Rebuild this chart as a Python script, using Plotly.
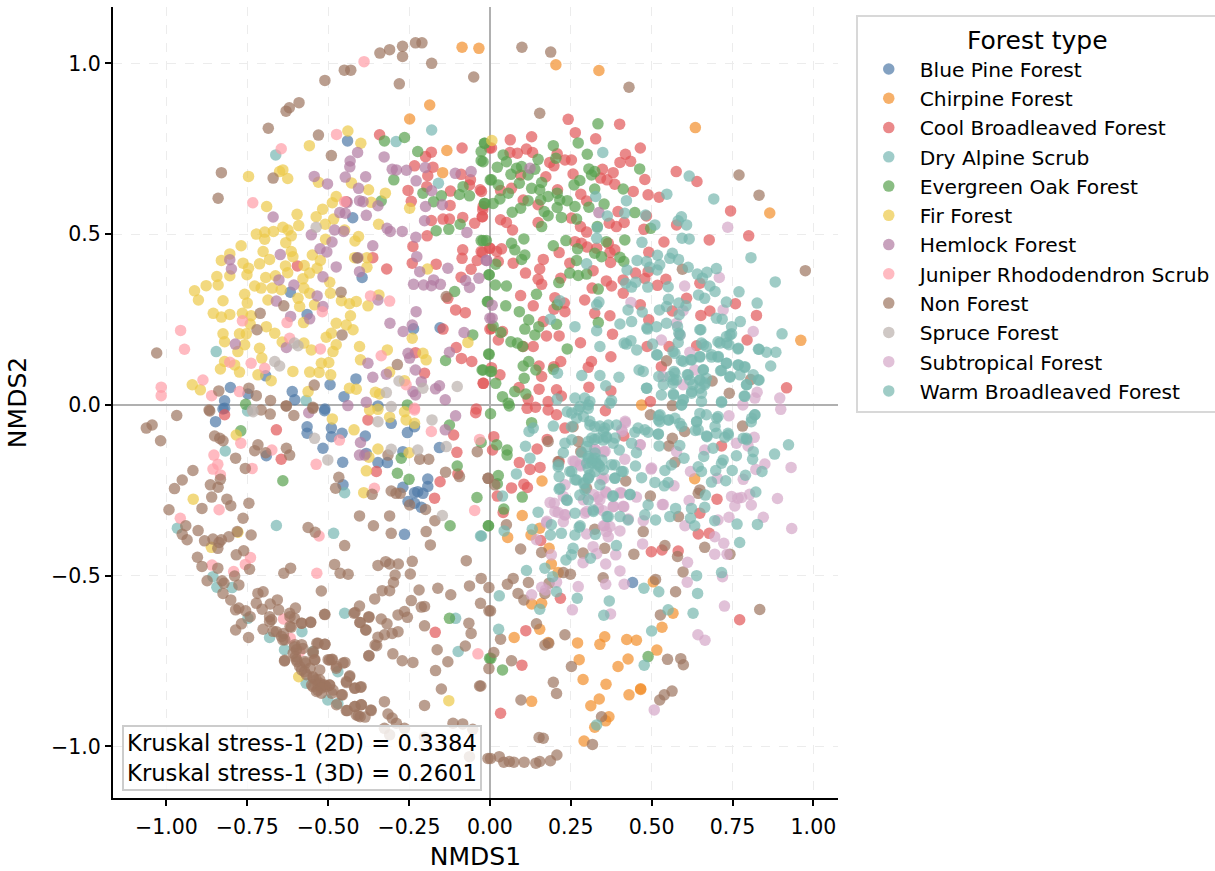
import plotly.graph_objects as go

BLUE_PINE = [(-0.440,0.773),(-0.424,0.548),(-0.395,0.373),(-0.617,0.330),(-0.565,0.265),(-0.236,0.223),(-0.154,0.226),(-0.693,0.085),(-0.802,0.051),(-0.748,0.032),(-0.494,0.059),(-0.414,0.076),(-0.611,0.039),(-0.451,0.024),(-0.603,0.015),(-0.820,0.012),(-0.346,-0.003),(-0.510,-0.012),(-0.825,-0.012),(-0.848,-0.049),(-0.820,-0.010),(-0.511,-0.017),(-0.565,-0.064),(-0.565,-0.083),(-0.490,-0.068),(-0.490,-0.093),(-0.457,-0.083),(-0.385,-0.091),(-0.516,-0.127),(-0.691,-0.149),(-0.455,-0.168),(-0.255,-0.081),(-0.233,-0.064),(-0.305,-0.054),(-0.156,-0.125),(-0.269,-0.137),(-0.382,-0.142),(-0.346,-0.169),(-0.317,-0.169),(-0.454,-0.234),(-0.269,-0.241),(-0.192,-0.217),(-0.192,-0.239),(-0.233,-0.257),(-0.223,-0.254),(-0.207,-0.259),(-0.253,-0.283),(-0.233,-0.288),(-0.212,-0.300),(-0.264,-0.379),(0.441,-0.520)]
CHIRPINE = [(-0.086,1.047),(-0.034,1.044),(-0.186,0.878),(-0.248,0.837),(-0.133,0.745),(-0.146,0.680),(0.204,0.996),(0.337,0.979),(0.635,0.812),(0.865,0.562),(0.961,0.189),(0.469,0.0),(0.161,-0.223),(0.633,-0.216),(0.100,-0.324),(0.154,-0.361),(0.127,-0.381),(0.055,-0.388),(0.183,-0.420),(0.190,-0.466),(0.211,-0.491),(0.505,-0.518),(0.129,-0.583),(0.160,-0.581),(0.566,-0.610),(0.532,-0.651),(0.154,-0.657),(0.075,-0.681),(0.180,-0.696),(0.271,-0.697),(0.355,-0.679),(0.340,-0.701),(0.423,-0.687),(0.453,-0.689),(0.516,-0.718),(0.276,-0.746),(0.427,-0.744),(0.396,-0.766),(0.288,-0.804),(0.359,-0.818),(0.466,-0.831),(0.466,-0.833),(0.430,-0.849),(0.338,-0.861),(0.129,-0.868),(0.312,-0.881),(0.368,-0.913),(0.358,-0.925),(0.324,-0.944),(0.291,-0.984)]
COOL_BROADLEAVED = [(-0.341,0.791),(-0.181,0.740),(-0.199,0.727),(-0.086,0.752),(-0.233,0.700),(-0.176,0.696),(-0.192,0.671),(-0.089,0.675),(-0.060,0.659),(-0.063,0.644),(-0.253,0.628),(-0.195,0.639),(-0.122,0.626),(-0.030,0.630),(-0.243,0.596),(-0.123,0.584),(-0.181,0.540),(-0.145,0.544),(-0.125,0.544),(-0.084,0.549),(-0.047,0.532),(-0.024,0.551),(-0.194,0.495),(-0.022,0.571),(-0.238,0.464),(-0.084,0.454),(-0.086,0.429),(-0.027,0.449),(-0.039,0.423),(-0.001,0.459),(-0.166,0.412),(-0.240,0.415),(-0.058,0.397),(-0.319,0.398),(-0.362,0.431),(-0.595,0.407),(-0.089,0.374),(-0.130,0.312),(-0.106,0.278),(-0.076,0.270),(-0.145,0.222),(-0.104,0.168),(-0.088,0.136),(-0.056,0.127),(-0.020,0.063),(0.0,0.222),(-0.444,0.595),(-0.042,-0.012),(-0.202,0.093),(-0.001,0.752),(-0.230,0.153),
(0.242,0.836),(0.264,0.797),(0.401,0.822),(0.063,0.776),(0.129,0.785),(0.327,0.779),(0.465,0.752),(0.005,0.752),(0.062,0.739),(0.085,0.737),(0.113,0.749),(0.132,0.739),(0.208,0.735),(0.185,0.710),(0.198,0.700),(0.232,0.717),(0.252,0.717),(0.419,0.734),(0.402,0.710),(0.435,0.713),(0.348,0.690),(0.381,0.680),(0.257,0.676),(0.173,0.668),(0.095,0.673),(0.342,0.664),(0.362,0.659),(0.386,0.646),(0.479,0.660),(0.576,0.683),(0.640,0.654),(0.443,0.625),(0.489,0.615),(0.523,0.608),(0.209,0.630),(0.281,0.617),(0.067,0.634),(0.033,0.628),(-0.026,0.625),(0.103,0.600),(0.299,0.597),(0.149,0.586),(-0.021,0.581),(-0.023,0.551),(0.033,0.542),(0.051,0.534),(0.149,0.534),(0.252,0.547),(0.280,0.522),(0.396,0.566),(0.369,0.532),(0.391,0.522),(0.415,0.534),(0.744,0.568),(0.476,0.514),(0.484,0.553),(0.577,0.527),(0.070,0.512),(0.299,0.506),(0.538,0.477),(0.678,0.483),(0.800,0.495),(0.263,0.478),(0.283,0.473),(0.301,0.462),(0.330,0.459),(0.366,0.473),(0.386,0.454),(0.371,0.446),(0.000,0.459),(0.036,0.457),(0.021,0.449),(-0.023,0.446),(0.214,0.446),(0.165,0.426),(0.491,0.447),(0.026,0.420),(0.072,0.415),(0.247,0.415),(0.373,0.417),(0.154,0.398),(0.319,0.393),(0.110,0.386),(0.450,0.386),(0.489,0.390),(0.412,0.366),(0.479,0.370),(0.149,0.368),(0.160,0.353),(0.219,0.371),(0.360,0.363),(0.376,0.348),(0.544,0.368),(0.518,0.350),(0.649,0.356),(0.316,0.342),(0.412,0.327),(0.095,0.320),(0.201,0.314),(0.293,0.307),(0.608,0.312),(0.759,0.296),(0.134,0.290),(0.465,0.293),(0.230,0.298),(0.198,0.280),(0.232,0.273),(0.324,0.268),(0.371,0.261),(0.564,0.275),(0.652,0.262),(0.680,0.275),(0.824,0.262),(0.491,0.249),(0.165,0.244),(0.005,0.224),(0.039,0.215),(0.026,0.190),(0.175,0.202),(0.214,0.202),(0.379,0.207),(0.280,0.182),(0.103,0.171),(0.134,0.171),(0.486,0.171),(0.554,0.171),(0.639,0.173),(0.795,0.190),(0.374,0.141),(0.219,0.127),(0.314,0.127),(0.530,0.112),(0.304,0.110),(0.152,0.114),(0.198,0.112),(0.005,0.109),(0.031,0.088),(-0.021,0.063),(0.160,0.083),(0.152,0.046),(0.090,0.051),(0.306,0.052),(0.374,0.041),(0.206,0.044),(0.221,0.026),(0.917,0.050),(0.118,0.017),(0.180,0.010),(0.496,0.010),
(0.115,-0.010),(0.141,-0.007),(0.180,-0.015),(0.206,-0.029),(0.357,-0.017),(0.232,-0.068),(0.414,-0.091),(0.012,-0.093),(0.177,-0.101),(0.146,-0.129),(0.008,-0.132),(0.091,-0.169),(0.124,-0.189),(0.155,-0.183),(0.214,-0.166),(0.067,-0.243),(0.105,-0.232),(0.116,-0.242),(0.023,-0.267),(0.716,-0.120),(0.702,-0.276),(0.649,-0.317),(0.644,-0.378),(0.678,-0.376),(0.582,-0.428),(0.532,-0.425),(0.499,-0.430),(0.157,-0.397),(0.041,-0.315),(0.218,-0.566),(0.111,-0.661),(0.099,-0.762),(0.033,-0.903),(0.772,-0.629),
(-0.660,-0.073),(-0.645,-0.159),(-0.820,-0.029),(-0.044,-0.023),(-0.112,-0.088),(-0.102,-0.139),(-0.099,-0.202),(-0.154,-0.225),(-0.171,-0.273),(-0.169,-0.666),(-0.351,-0.195),(-0.377,-0.044)]
DRY_ALPINE = [(-0.846,0.156),(-0.662,0.732),(-0.18,0.805),(-0.29,0.771),(-0.159,0.649),(-0.568,0.013),(-0.818,-0.135),(-0.966,-0.361),(-0.660,-0.353),(-0.483,-0.376),(-0.449,-0.610),(-0.106,-0.625),(-0.098,-0.722),(-0.029,-0.384),(-0.449,-0.257),(-0.856,-0.503),(-0.844,-0.534),(-0.797,-0.535),(-0.748,-0.625),(-0.681,-0.681),(-0.581,-0.664),(-0.635,-0.717),(-0.547,-0.722),(-0.470,-0.781),(-0.568,-0.815),(-0.501,-0.864),(-0.470,-0.874),(-0.749,-0.018)]
EVERGREEN_OAK = [(-0.326,0.773),(-0.264,0.783),(-0.223,0.742),(-0.017,0.766),(-0.027,0.742),(-0.027,0.715),(-0.297,0.659),(-0.207,0.620),(-0.174,0.595),(-0.150,0.612),(-0.094,0.616),(-0.083,0.639),(-0.063,0.612),(-0.017,0.590),(0.001,0.659),(-0.336,0.597),(-0.166,0.510),(-0.127,0.514),(-0.092,0.529),(-0.027,0.481),(-0.011,0.481),(-0.003,0.381),(-0.006,0.303),(-0.109,0.332),(-0.053,0.205),(-0.004,0.149),(-0.137,0.130),(-0.024,0.102),(0.001,0.098),(-0.755,0.002),(-0.255,0.0),
(0.334,0.823),(-0.016,0.766),(0.273,0.767),(0.196,0.759),(0.301,0.734),(0.041,0.732),(0.149,0.719),(0.204,0.722),(0.051,0.712),(-0.021,0.712),(0.023,0.696),(0.082,0.693),(0.098,0.698),(0.139,0.690),(0.306,0.691),(0.324,0.683),(0.463,0.691),(0.065,0.675),(0.118,0.673),(0.314,0.673),(0.005,0.659),(0.026,0.644),(0.091,0.649),(0.278,0.657),(0.260,0.644),(0.160,0.651),(0.324,0.632),(0.412,0.632),(0.129,0.634),(0.154,0.630),(0.057,0.620),(0.208,0.620),(0.180,0.610),(0.031,0.603),(0.010,0.590),(-0.016,0.590),(0.118,0.598),(0.216,0.600),(0.239,0.598),(0.157,0.600),(0.095,0.576),(0.069,0.564),(0.208,0.578),(0.263,0.581),(0.306,0.579),(0.353,0.588),(0.168,0.566),(0.180,0.554),(0.221,0.549),(0.268,0.544),(0.448,0.563),(0.160,0.522),(0.332,0.522),(0.497,0.517),(-0.021,0.481),(0.105,0.486),(0.196,0.466),(0.235,0.481),(0.271,0.457),(0.360,0.478),(0.417,0.483),(0.067,0.473),(0.077,0.454),(0.108,0.439),(0.098,0.426),(0.324,0.444),(0.345,0.434),(0.402,0.432),(0.414,0.420),(0.268,0.423),(0.018,0.412),(0.247,0.386),(0.273,0.379),(0.299,0.383),(-0.002,0.381),(0.017,0.351),(0.051,0.348),(0.213,0.358),(0.335,0.339),(0.144,0.324),(-0.008,0.302),(0.049,0.290),(0.091,0.273),(0.208,0.293),(0.120,0.249),(0.108,0.222),(0.151,0.229),(0.206,0.236),(0.335,0.241),(0.010,0.231),(0.034,0.212),(0.139,0.205),(0.065,0.185),(0.085,0.181),(0.101,0.171),(0.239,0.164),(-0.002,0.148),(0.120,0.127),(0.103,0.114),(0.142,0.102),(0.196,0.104),(-0.021,0.102),(0.005,0.098),(0.106,0.078),(0.018,0.063),(0.077,0.039),(0.111,0.032),(0.039,0.024),(0.057,0.005),
(-0.640,-0.222),(-0.770,-0.076),(-0.125,-0.059),(-0.274,-0.156),(-0.286,-0.200),(-0.250,-0.218),(-0.101,-0.179),(-0.123,-0.354),(-0.040,-0.271),(-0.027,-0.110),(-0.004,-0.354),(-0.125,-0.625),(-0.001,-0.742),(0.002,-0.026),(0.129,-0.052),(0.060,-0.003),(0.021,-0.117),(0.053,-0.132),(0.053,-0.147),(0.026,-0.207),(0.023,-0.231),(0.100,-0.270),(0.043,-0.305),(-0.005,-0.354),(0.489,-0.737),(0.039,-0.776),(0.003,-0.742)]
FIR = [(-0.439,0.802),(-0.399,0.766),(-0.558,0.759),(-0.746,0.669),(-0.650,0.683),(-0.640,0.688),(-0.625,0.663),(-0.530,0.652),(-0.428,0.650),(-0.375,0.630),(-0.323,0.620),(-0.475,0.610),(-0.487,0.592),(-0.367,0.593),(-0.690,0.581),(-0.517,0.573),(-0.248,0.576),(-0.596,0.558),(-0.537,0.551),(-0.483,0.544),(-0.591,0.525),(-0.509,0.529),(-0.344,0.529),(-0.722,0.500),(-0.696,0.506),(-0.696,0.485),(-0.669,0.508),(-0.640,0.520),(-0.624,0.512),(-0.614,0.495),(-0.631,0.475),(-0.406,0.493),(-0.417,0.480),(-0.508,0.485),(-0.449,0.512),(-0.769,0.466),(-0.701,0.449),(-0.804,0.442),(-0.830,0.423),(-0.763,0.415),(-0.712,0.413),(-0.681,0.426),(-0.614,0.449),(-0.609,0.434),(-0.549,0.439),(-0.524,0.423),(-0.418,0.431),(-0.380,0.431),(-0.380,0.403),(-0.746,0.400),(-0.751,0.381),(-0.804,0.378),(-0.844,0.376),(-0.632,0.407),(-0.625,0.387),(-0.574,0.408),(-0.557,0.386),(-0.534,0.400),(-0.877,0.349),(-0.840,0.351),(-0.913,0.334),(-0.901,0.307),(-0.693,0.373),(-0.663,0.378),(-0.727,0.348),(-0.707,0.342),(-0.673,0.342),(-0.645,0.337),(-0.578,0.369),(-0.575,0.342),(-0.495,0.359),(-0.493,0.327),(-0.825,0.305),(-0.758,0.324),(-0.750,0.298),(-0.686,0.307),(-0.593,0.312),(-0.557,0.327),(-0.588,0.288),(-0.542,0.293),(-0.459,0.305),(-0.434,0.296),(-0.413,0.303),(-0.377,0.290),(-0.343,0.322),(-0.855,0.268),(-0.830,0.257),(-0.804,0.265),(-0.765,0.268),(-0.738,0.261),(-0.741,0.237),(-0.576,0.241),(-0.431,0.261),(-0.475,0.239),(-0.444,0.234),(-0.423,0.220),(-0.691,0.229),(-0.665,0.210),(-0.825,0.208),(-0.774,0.208),(-0.753,0.208),(-0.820,0.185),(-0.758,0.176),(-0.712,0.166),(-0.490,0.210),(-0.506,0.198),(-0.642,0.184),(-0.575,0.181),(-0.552,0.161),(-0.475,0.176),(-0.485,0.156),(-0.403,0.171),(-0.317,0.161),(-0.779,0.156),(-0.705,0.137),(-0.400,0.132),(-0.521,0.122),(-0.498,0.124),(-0.820,0.127),(-0.833,0.105),(-0.789,0.117),(-0.774,0.096),(-0.717,0.088),(-0.609,0.098),(-0.557,0.096),(-0.528,0.095),(-0.492,0.088),(-0.920,0.059),(-0.895,0.044),(-0.676,0.071),(-0.562,0.039),(-0.434,0.049),(-0.413,0.046),(-0.354,0.037),(-0.341,0.032),(-0.264,0.071),(-0.310,0.096),(-0.240,0.195),(-0.193,0.398),(-0.068,0.183),(-0.207,0.151),(-0.197,0.132),(0.006,0.774),
(-0.487,-0.041),(-0.372,-0.015),(-0.346,-0.013),(-0.310,-0.036),(-0.264,-0.020),(-0.259,-0.044),(-0.233,-0.054),(-0.420,-0.073),(-0.784,-0.088),(-0.346,-0.129),(-0.374,-0.153),(-0.250,-0.140),(-0.382,-0.193),(-0.390,-0.257),(-0.917,-0.276),(-0.861,-0.417),(-0.779,-0.373),(-0.591,-0.796),(-0.127,-0.866)]
HEMLOCK = [(-0.409,0.739),(-0.432,0.714),(-0.433,0.697),(-0.327,0.726),(-0.302,0.690),(-0.289,0.688),(-0.258,0.687),(-0.200,0.695),(-0.543,0.669),(-0.502,0.647),(-0.447,0.667),(-0.384,0.668),(-0.406,0.634),(-0.228,0.656),(-0.180,0.627),(-0.107,0.678),(-0.058,0.683),(-0.403,0.598),(-0.392,0.595),(-0.441,0.593),(-0.346,0.583),(-0.199,0.581),(-0.147,0.586),(-0.464,0.563),(-0.447,0.561),(-0.382,0.555),(-0.670,0.550),(-0.202,0.539),(-0.552,0.498),(-0.480,0.512),(-0.452,0.508),(-0.318,0.517),(-0.308,0.508),(-0.271,0.508),(-0.071,0.505),(-0.229,0.491),(-0.488,0.477),(-0.525,0.457),(-0.504,0.448),(-0.362,0.466),(-0.648,0.440),(-0.804,0.425),(-0.799,0.398),(-0.408,0.431),(-0.226,0.434),(-0.475,0.404),(-0.403,0.390),(-0.130,0.400),(-0.217,0.390),(-0.011,0.423),(-0.516,0.375),(-0.652,0.366),(-0.606,0.351),(-0.236,0.353),(-0.205,0.351),(-0.174,0.366),(-0.181,0.349),(-0.153,0.353),(-0.075,0.364),(-0.063,0.344),(-0.034,0.371),(-0.534,0.319),(-0.660,0.304),(-0.516,0.288),(-0.616,0.259),(-0.557,0.252),(-0.346,0.307),(-0.228,0.273),(-0.309,0.239),(-0.268,0.215),(-0.240,0.234),(-0.080,0.212),(0.0,0.254),(-0.787,0.178),(-0.629,0.168),(-0.377,0.122),(-0.125,0.154),(-0.253,0.151),(-0.248,0.137),(-0.230,0.102),(-0.320,0.090),(-0.362,0.081),(-0.212,0.068),(-0.168,0.047),(-0.156,0.056),(-0.238,0.039),(-0.230,0.029),(-0.382,0.008),(-0.138,0.015),(-0.439,-0.002),(-0.560,-0.023),(-0.106,-0.032),(-0.138,-0.073),(-0.400,-0.110),(-0.403,-0.147),(-0.387,-0.147),(0.124,0.693),(0.337,0.563),(0.007,0.292),(0.007,0.254),(-0.010,0.423)]
JUNIPER_RHODODENDRON = [(-0.389,1.005),(-0.645,0.750),(-0.474,0.792),(-0.733,0.592),(-0.449,0.595),(-0.956,0.218),(-0.944,0.163),(-1.016,0.052),(-1.016,0.027),(-0.887,0.073),(-0.860,0.027),(-0.774,0.039),(-0.804,0.125),(-0.738,0.122),(-0.696,0.107),(-0.619,0.195),(-0.627,0.241),(-0.765,0.246),(-0.518,0.273),(-0.369,0.319),(-0.310,0.304),(-0.336,0.144),(-0.524,0.164),(-0.259,0.059),(-0.233,-0.010),(-0.233,-0.015),(-0.465,-0.103),(-0.181,-0.078),(-0.770,-0.112),(-0.674,-0.132),(-0.853,-0.147),(-0.841,-0.174),(-0.856,-0.188),(-0.833,-0.205),(-0.735,-0.186),(-0.537,-0.174),(-0.357,-0.244),(-0.837,-0.307),(-0.957,-0.332),(-0.047,-0.309),(-0.032,-0.101),(-0.528,-0.384),(-0.740,-0.447),(-0.756,-0.467),(-0.859,-0.469),(-0.792,-0.488),(-0.535,-0.493),(-0.638,-0.627),(-0.617,-0.683),(-0.037,-0.729),(-0.588,-0.722)]
NON_FOREST = [(-0.23,1.06),(-0.21,1.06),(-0.27,1.05),(-0.27,1.02),(-0.31,1.04),(-0.34,1.03),(-0.18,1.00),(-0.45,0.98),(-0.43,0.98),(-0.28,0.94),(-0.51,0.95),(-0.05,0.96),(-0.63,0.86),(-0.62,0.87),(-0.59,0.885),(-0.685,0.81),(-0.53,0.79),(-0.49,0.73),(-0.83,0.68),(-0.67,0.664),(-0.84,0.605),(-1.03,0.152),(-0.637,0.29),(-0.71,0.268),(-0.72,0.22),(-0.457,0.205),(-0.286,0.118),(-0.46,0.33),(-0.41,0.43),(-0.135,0.317),(-0.543,0.058),(-0.745,0.049),(-0.838,0.041),(-0.722,0.027),(-0.678,0.013),(-0.63,-0.003),(-0.547,-0.007),(-0.868,-0.015),
(0.099,1.047),(0.188,1.033),(0.43,0.93),(0.154,0.854),(0.77,0.673),(0.832,0.614),(0.975,0.393),(0.806,0.074),(0.74,0.034),(0.595,0.397),(0.546,0.129),(0.687,0.07),
(-1.062,-0.068),(-1.044,-0.059),(-1.018,-0.105),(-0.968,-0.031),(-0.866,-0.018),(-0.851,-0.091),(-0.835,-0.098),(-0.825,-0.105),(-0.707,-0.015),(-0.679,-0.027),(-0.629,-0.003),(-0.606,-0.031),(-0.547,-0.010),(-0.717,-0.117),(-0.727,-0.134),(-0.693,-0.140),(-0.629,-0.127),(-0.619,-0.147),(-0.786,-0.156),(-0.756,-0.186),(-0.918,-0.192),(-0.951,-0.220),(-0.975,-0.245),(-0.864,-0.234),(-0.840,-0.241),(-0.833,-0.218),(-0.860,-0.270),(-0.813,-0.276),(-0.801,-0.295),(-0.890,-0.303),(-0.745,-0.288),(-0.992,-0.307),(-0.763,-0.332),(-0.940,-0.354),(-0.951,-0.379),(-0.936,-0.395),(-0.902,-0.368),(-0.882,-0.398),(-0.856,-0.393),(-0.837,-0.403),(-0.830,-0.395),(-0.841,-0.420),(-0.807,-0.386),(-0.781,-0.371),(-0.738,-0.381),(-0.761,-0.427),(-0.784,-0.439),(-0.904,-0.446),(-0.890,-0.473),(-0.841,-0.478),(-0.743,-0.481),(-0.874,-0.515),(-0.828,-0.515),(-0.822,-0.522),(-0.789,-0.501),(-0.776,-0.527),(-0.825,-0.552),(-0.717,-0.552),(-0.701,-0.547),(-0.801,-0.571),(-0.722,-0.581),(-0.776,-0.595),(-0.786,-0.600),(-0.755,-0.603),(-0.741,-0.620),(-0.768,-0.641),(-0.786,-0.659),(-0.746,-0.681),(-0.701,-0.657),(-0.681,-0.620),(-0.681,-0.634),(-0.679,-0.583),(-0.657,-0.571),(-0.653,-0.600),(-0.704,-0.598),(-0.660,-0.664),(-0.638,-0.669),(-0.640,-0.688),(-0.601,-0.595),(-0.619,-0.610),(-0.604,-0.625),(-0.582,-0.639),(-0.554,-0.637),(-0.614,-0.651),(-0.511,-0.613),(-0.521,-0.545),(-0.637,-0.493),(-0.616,-0.478),(-0.562,-0.359),(-0.540,-0.373),(-0.449,-0.412),(-0.480,-0.467),(-0.463,-0.493),(-0.438,-0.496),(-0.403,-0.589),(-0.420,-0.610),(-0.401,-0.637),(-0.384,-0.659),(-0.374,-0.622),(-0.374,-0.735),(-0.355,-0.703),(-0.346,-0.680),(-0.326,-0.673),(-0.302,-0.669),(-0.284,-0.664),(-0.336,-0.627),(-0.318,-0.641),(-0.356,-0.568),(-0.333,-0.544),(-0.310,-0.544),(-0.298,-0.520),(-0.293,-0.498),(-0.346,-0.470),(-0.322,-0.459),(-0.310,-0.466),(-0.283,-0.466),(-0.240,-0.458),(-0.246,-0.495),(-0.243,-0.573),(-0.219,-0.542),(-0.161,-0.537),(-0.121,-0.556),(-0.073,-0.456),(-0.063,-0.530),(-0.027,-0.508),(-0.003,-0.535),(-0.029,-0.581),(-0.003,-0.603),(-0.202,-0.590),(-0.212,-0.592),(-0.284,-0.615),(-0.264,-0.605),(-0.255,-0.622),(-0.202,-0.647),(-0.065,-0.639),(-0.058,-0.669),(-0.076,-0.706),(-0.163,-0.717),(-0.130,-0.752),(-0.168,-0.778),(-0.150,-0.832),(-0.202,-0.880),(-0.032,-0.823),(-0.300,-0.729),(-0.271,-0.749),(-0.238,-0.754),(-0.403,-0.325),(-0.360,-0.354),(-0.310,-0.325),(-0.305,-0.376),(-0.197,-0.371),(-0.170,-0.339),(-0.184,-0.410),(-0.477,-0.244),(-0.467,-0.212),(-0.364,-0.262),(-0.305,-0.252),(-0.290,-0.259),(-0.277,-0.259),(-0.217,-0.159),(-0.189,-0.159),(-0.137,-0.197),(-0.094,-0.210),(-0.039,-0.137),(-0.006,-0.215),(-0.315,-0.147),(-0.248,-0.293),(-0.199,-0.306),
(-0.604,-0.708),(-0.598,-0.717),(-0.578,-0.713),(-0.535,-0.698),(-0.510,-0.701),(-0.635,-0.750),(-0.601,-0.737),(-0.596,-0.752),(-0.570,-0.756),(-0.547,-0.727),(-0.542,-0.747),(-0.496,-0.747),(-0.487,-0.745),(-0.454,-0.756),(-0.475,-0.771),(-0.588,-0.766),(-0.573,-0.781),(-0.547,-0.796),(-0.537,-0.805),(-0.526,-0.815),(-0.516,-0.820),(-0.506,-0.825),(-0.496,-0.820),(-0.532,-0.835),(-0.521,-0.844),(-0.547,-0.825),(-0.485,-0.835),(-0.456,-0.849),(-0.434,-0.796),(-0.444,-0.810),(-0.418,-0.830),(-0.398,-0.825),(-0.326,-0.869),(-0.444,-0.895),(-0.418,-0.883),(-0.398,-0.878),(-0.367,-0.895),(-0.413,-0.908),(-0.401,-0.913),(-0.315,-0.905),(-0.302,-0.917),(-0.289,-0.932),(-0.264,-0.947),(-0.114,-0.932),(-0.084,-0.934),(-0.053,-0.950),(-0.326,-0.947),(-0.310,-0.966),(-0.202,-0.973),(-0.063,-1.030),(-0.006,-1.035),
(0.072,-0.508),(0.054,-0.525),(0.119,-0.520),(0.087,-0.552),(0.105,-0.571),(0.002,-0.603),(0.095,-0.422),(0.160,-0.432),(0.180,-0.107),(0.211,-0.166),(-0.005,-0.215),(0.015,-0.234),(0.051,-0.351),(0.183,-0.522),(0.170,-0.552),(0.227,-0.491),(0.249,-0.496),(0.144,-0.641),(0.033,-0.686),(0.012,-0.725),(-0.003,-0.772),(0.067,-0.749),(-0.028,-0.823),(0.170,-0.703),(0.182,-0.698),(0.232,-0.673),(0.252,-0.766),(0.196,-0.812),(0.206,-0.845),(0.096,-0.864),(0.152,-0.974),(0.165,-0.976),(0.002,-1.035),(0.029,-1.030),(0.043,-1.046),(0.060,-1.044),(0.074,-1.046),(0.106,-1.046),(0.142,-1.049),(0.154,-1.044),(0.187,-1.042),(0.207,-1.025),(0.317,-0.994),(0.345,-0.913),(0.525,-0.864),(0.539,-0.849),(0.563,-0.838),(0.549,-0.745),(0.590,-0.743),(0.598,-0.761),(0.527,-0.615),(0.834,-0.599),(0.574,-0.547),(0.597,-0.489),(0.512,-0.511),(0.350,-0.506),(0.445,-0.437),(0.541,-0.412),(0.580,-0.444),(0.664,-0.417),(0.742,-0.437),(0.355,-0.420),(0.288,-0.434),(0.474,-0.371),(0.583,-0.327),(0.324,-0.364),(0.496,-0.267),(0.644,-0.259),(0.649,-0.249),(0.420,-0.223),(0.572,-0.168),(0.553,-0.120),(0.564,-0.098),(0.602,-0.078),(0.781,-0.062),(0.496,-0.029),(0.299,-0.244),(0.281,-0.137),(0.273,-0.107),(0.257,-0.064),(0.564,-0.002),
(-0.644,-0.678),(-0.634,-0.688),(-0.603,-0.702),(-0.582,-0.702),(-0.608,-0.727),(-0.598,-0.746),(-0.572,-0.751),(-0.546,-0.722),(-0.531,-0.698),(-0.510,-0.701),(-0.541,-0.746),(-0.582,-0.776),(-0.556,-0.771),(-0.526,-0.776),(-0.567,-0.790),(-0.546,-0.800),(-0.526,-0.805),(-0.551,-0.820),(-0.531,-0.820),(-0.510,-0.820),(-0.536,-0.839),(-0.520,-0.829),(-0.495,-0.820),(-0.489,-0.844),(-0.459,-0.849),(-0.474,-0.878),(-0.500,-0.746),(-0.489,-0.746),(-0.448,-0.754),(-0.474,-0.766),(-0.433,-0.793),(-0.443,-0.813),(-0.417,-0.829),(-0.400,-0.827),(-0.441,-0.895),(-0.417,-0.883),(-0.397,-0.878),(-0.368,-0.893),(-0.407,-0.910),(-0.386,-0.914),(-0.510,-0.614),(-0.634,-0.748),(-0.618,-0.620),(-0.618,-0.649),(-0.582,-0.639),(-0.554,-0.636),(-0.402,-0.637),(-0.374,-0.620),(-0.383,-0.659),(-0.417,-0.608),(-0.350,-0.705),(-0.374,-0.734),(-0.670,-0.663),(-0.675,-0.629)]
SPRUCE = [(-0.537,0.520),(-0.665,0.127),(-0.650,0.114),(-0.604,0.181),(-0.593,0.173),(-0.281,0.070),(-0.320,0.036),(-0.207,0.049),(-0.101,0.054),(-0.734,-0.015),(-0.305,-0.005),(-0.732,-0.020),(-0.542,-0.098),(-0.501,-0.161),(-0.305,-0.130),(-0.223,-0.132),(-0.179,-0.044),(-0.135,-0.122),(-0.147,-0.324),(-0.346,-0.049)]
SUBTROPICAL = [(0.735,0.520),(0.709,0.373),(0.602,0.348),(0.436,0.300),(0.721,0.278),(0.597,0.276),(0.814,0.215),(0.577,0.239),(0.587,0.205),(0.530,0.190),(0.618,0.154),(0.633,0.102),(0.535,0.083),(0.597,0.059),(0.826,0.037),(0.819,0.020),(0.896,0.020),(0.899,-0.013),(0.782,0.0),(0.739,-0.032),(0.419,-0.052),(0.409,-0.078),(0.817,-0.095),(0.762,-0.112),(0.798,-0.120),(0.465,-0.117),(0.664,-0.132),(0.577,-0.137),(0.324,-0.130),(0.352,-0.137),(0.417,-0.159),(0.257,-0.164),(0.280,-0.179),(0.498,-0.188),(0.620,-0.195),(0.850,-0.173),(0.822,-0.189),(0.931,-0.183),(0.703,-0.215),(0.783,-0.218),(0.353,-0.215),(0.232,-0.234),(0.569,-0.237),(0.358,-0.254),(0.402,-0.257),(0.453,-0.270),(0.335,-0.270),(0.747,-0.268),(0.767,-0.273),(0.778,-0.271),(0.803,-0.262),(0.889,-0.274),(0.616,-0.280),(0.199,-0.288),(0.533,-0.292),(0.757,-0.296),(0.808,-0.293),(0.381,-0.298),(0.414,-0.298),(0.299,-0.312),(0.350,-0.310),(0.211,-0.315),(0.232,-0.322),(0.227,-0.342),(0.175,-0.345),(0.474,-0.339),(0.845,-0.329),(0.739,-0.329),(0.705,-0.337),(0.603,-0.354),(0.933,-0.362),(0.355,-0.354),(0.371,-0.356),(0.360,-0.371),(0.402,-0.369),(0.299,-0.378),(0.144,-0.395),(0.366,-0.386),(0.695,-0.386),(0.319,-0.415),(0.472,-0.407),(0.723,-0.405),(0.190,-0.439),(0.389,-0.439),(0.330,-0.436),(0.695,-0.437),(0.733,-0.437),(0.288,-0.462),(0.358,-0.466),(0.611,-0.461),(0.402,-0.486),(0.206,-0.519),(0.273,-0.532),(0.358,-0.525),(0.415,-0.525),(0.610,-0.519),(0.719,-0.503),(0.160,-0.534),(0.172,-0.542),(0.129,-0.556),(0.255,-0.600),(0.373,-0.612),(0.725,-0.589),(0.643,-0.673),(0.665,-0.689),(0.508,-0.893),
(0.464,-0.117),(0.356,-0.136),(0.325,-0.131),(0.263,-0.166),(0.279,-0.175),(0.346,-0.219),(0.320,-0.263),(0.361,-0.258),(0.407,-0.258),(0.186,-0.286),(0.227,-0.268),(0.201,-0.312),(0.232,-0.322),(0.289,-0.278),(0.340,-0.278),(0.335,-0.302),(0.382,-0.297),(0.412,-0.297),(0.294,-0.317),(0.351,-0.354),(0.428,-0.334),(0.176,-0.341),(0.500,-0.185),(0.536,-0.292),(0.418,-0.048),(0.407,-0.073)]
WARM_BROADLEAVED = [(0.349,0.739),(0.616,0.670),(0.547,0.617),(0.692,0.603),(0.422,0.598),(0.327,0.610),(0.481,0.556),(0.510,0.527),(0.417,0.561),(0.363,0.553),(0.592,0.551),(0.608,0.527),(0.582,0.539),(0.594,0.488),(0.616,0.486),(0.470,0.476),(0.330,0.488),(0.332,0.519),(0.518,0.438),(0.564,0.444),(0.556,0.429),(0.583,0.426),(0.455,0.423),(0.484,0.420),(0.525,0.410),(0.494,0.403),(0.517,0.395),(0.299,0.413),(0.424,0.395),(0.613,0.403),(0.700,0.399),(0.671,0.388),(0.641,0.383),(0.657,0.371),(0.807,0.431),(0.420,0.356),(0.451,0.359),(0.438,0.345),(0.488,0.345),(0.551,0.346),(0.680,0.348),(0.696,0.332),(0.645,0.322),(0.664,0.312),(0.552,0.309),(0.770,0.331),(0.882,0.360),(0.826,0.298),(0.731,0.301),(0.584,0.298),(0.606,0.290),(0.524,0.278),(0.546,0.288),(0.427,0.278),(0.471,0.272),(0.337,0.301),(0.330,0.293),(0.216,0.305),(0.585,0.264),(0.700,0.254),(0.718,0.251),(0.774,0.244),(0.402,0.237),(0.438,0.244),(0.263,0.229),(0.187,0.251),(0.330,0.217),(0.487,0.222),(0.515,0.229),(0.546,0.239),(0.580,0.229),(0.584,0.210),(0.652,0.220),(0.747,0.229),(0.747,0.208),(0.731,0.200),(0.903,0.208),(0.415,0.181),(0.436,0.188),(0.422,0.178),(0.454,0.161),(0.340,0.171),(0.503,0.178),(0.582,0.183),(0.654,0.181),(0.669,0.171),(0.705,0.185),(0.739,0.176),(0.767,0.164),(0.832,0.163),(0.855,0.154),(0.884,0.154),(0.868,0.114),(0.517,0.146),(0.566,0.156),(0.592,0.130),(0.621,0.132),(0.649,0.140),(0.685,0.140),(0.705,0.140),(0.731,0.122),(0.767,0.117),(0.788,0.110),(0.713,0.100),(0.659,0.102),(0.610,0.088),(0.569,0.098),(0.461,0.102),(0.474,0.098),(0.340,0.086),(0.399,0.081),(0.284,0.086),(0.209,0.093),(0.522,0.083),(0.556,0.083),(0.577,0.073),(0.618,0.073),(0.649,0.073),(0.669,0.078),(0.742,0.081),(0.814,0.088),(0.832,0.073),(0.793,0.059),(0.566,0.063),(0.628,0.059),(0.664,0.059),(0.358,0.056),(0.484,0.049),(0.786,0.026),(0.530,0.029),(0.568,0.029),(0.623,0.034),(0.654,0.034),(0.716,0.007),(0.597,0.015),(0.263,0.020),(0.293,0.020),(0.309,0.010),(0.376,0.013),(0.208,0.017),(0.592,0.000),
(0.239,-0.020),(0.273,-0.015),(0.304,-0.010),(0.371,0.005),(0.196,-0.062),(0.309,-0.059),(0.324,-0.064),(0.121,-0.078),(0.134,-0.068),(0.252,-0.064),(0.340,-0.062),(0.366,-0.059),(0.391,-0.059),(0.448,-0.080),(0.458,-0.068),(0.489,-0.080),(0.520,-0.086),(0.525,-0.049),(0.522,-0.032),(0.553,-0.044),(0.587,-0.054),(0.639,-0.049),(0.649,-0.025),(0.669,-0.029),(0.705,-0.034),(0.819,-0.029),(0.808,-0.049),(0.635,-0.075),(0.671,-0.093),(0.700,-0.083),(0.736,-0.083),(0.726,-0.095),(0.793,-0.098),(0.355,-0.068),(0.360,-0.093),(0.324,-0.101),(0.350,-0.103),(0.381,-0.112),(0.232,-0.112),(0.227,-0.140),(0.110,-0.121),(0.124,-0.156),(0.082,-0.202),(0.438,-0.112),(0.453,-0.140),(0.400,-0.132),(0.523,-0.120),(0.587,-0.119),(0.690,-0.127),(0.661,-0.151),(0.721,-0.161),(0.762,-0.149),(0.814,-0.137),(0.812,-0.159),(0.880,-0.144),(0.923,-0.117),(0.304,-0.151),(0.319,-0.161),(0.330,-0.171),(0.299,-0.171),(0.340,-0.181),(0.211,-0.181),(0.214,-0.210),(0.268,-0.220),(0.247,-0.195),(0.386,-0.176),(0.412,-0.195),(0.386,-0.215),(0.450,-0.179),(0.469,-0.213),(0.510,-0.227),(0.541,-0.192),(0.561,-0.176),(0.600,-0.156),(0.644,-0.181),(0.654,-0.195),(0.698,-0.192),(0.716,-0.171),(0.749,-0.192),(0.729,-0.222),(0.685,-0.226),(0.790,-0.206),(0.841,-0.195),(0.304,-0.215),(0.293,-0.229),(0.214,-0.247),(0.239,-0.280),(0.278,-0.264),(0.304,-0.278),(0.381,-0.266),(0.433,-0.262),(0.539,-0.237),(0.551,-0.227),(0.666,-0.264),(0.822,-0.255),(0.489,-0.293),(0.319,-0.308),(0.263,-0.317),(0.362,-0.327),(0.402,-0.327),(0.427,-0.337),(0.479,-0.322),(0.512,-0.337),(0.556,-0.327),(0.574,-0.303),(0.623,-0.303),(0.664,-0.300),(0.620,-0.332),(0.633,-0.354),(0.695,-0.339),(0.764,-0.349),(0.827,-0.350),(0.772,-0.403),(0.149,-0.314),(0.131,-0.364),(0.190,-0.351),(0.187,-0.381),(0.221,-0.376),(0.263,-0.381),(0.276,-0.358),(0.326,-0.379),(0.391,-0.412),(0.257,-0.420),(0.235,-0.454),(0.252,-0.439),(0.311,-0.449),(0.113,-0.485),(0.170,-0.478),(0.194,-0.503),(0.029,-0.559),(0.206,-0.547),(0.270,-0.566),(0.154,-0.598),(0.369,-0.574),(0.352,-0.616),(0.476,-0.537),(0.522,-0.547),(0.551,-0.600),(0.628,-0.610),(0.642,-0.552),(0.639,-0.500),(0.716,-0.491),(0.500,-0.662),(0.027,-0.657),(0.477,-0.762),(0.330,-0.937),(-0.026,-0.384),(0.044,-0.369),(0.039,-0.267),
(0.279,-0.005),(0.304,0.0),(0.253,-0.024),(0.289,-0.034),(0.268,-0.039),(0.309,-0.048),(0.351,-0.078),(0.315,-0.097),(0.335,-0.097),(0.361,-0.097),(0.253,-0.102),(0.304,-0.107),(0.387,-0.097),(0.284,-0.141),(0.304,-0.156),(0.325,-0.156),(0.315,-0.170),(0.335,-0.175),(0.304,-0.185),(0.376,-0.175),(0.351,-0.190),(0.407,-0.195),(0.253,-0.195),(0.263,-0.219),(0.304,-0.214),(0.289,-0.229),(0.387,-0.214),(0.294,-0.249),(0.340,-0.234),(0.237,-0.278),(0.380,-0.268),(0.433,-0.263),(0.320,-0.312),(0.366,-0.327),(0.279,-0.354),(0.299,-0.122),(0.325,-0.141),(0.346,-0.161),(0.309,-0.205),(0.325,-0.195),(0.217,-0.244),(0.212,-0.175),
(0.485,0.225),(0.588,0.205),(0.649,0.220),(0.742,0.205),(0.711,0.181),(0.660,0.176),(0.732,0.181),(0.768,0.166),(0.830,0.163),(0.516,0.147),(0.572,0.151),(0.598,0.127),(0.624,0.132),(0.649,0.142),(0.685,0.147),(0.706,0.142),(0.732,0.122),(0.768,0.117),(0.788,0.112),(0.716,0.101),(0.660,0.103),(0.572,0.093),(0.613,0.088),(0.567,0.073),(0.649,0.073),(0.665,0.064),(0.742,0.083),(0.773,0.088),(0.830,0.073),(0.536,0.059),(0.794,0.059),(0.485,0.049),(0.567,0.032),(0.624,0.039),(0.649,0.049),(0.788,0.025),(0.598,0.015),(0.654,0.010),(0.716,0.010),(0.593,0.0),(0.526,-0.029),(0.552,-0.044),(0.572,-0.039),(0.639,-0.049),(0.701,-0.039),(0.819,-0.029),(0.809,-0.039),(0.521,-0.044),(0.593,-0.063),(0.644,-0.073),(0.696,-0.063),(0.737,-0.088),(0.670,-0.091),(0.783,-0.098),(0.794,-0.102),(0.521,-0.085),(0.479,-0.073)]

FOREST_TYPES = ["Blue Pine Forest", "Chirpine Forest", "Cool Broadleaved Forest", "Dry Alpine Scrub",
                "Evergreen Oak Forest", "Fir Forest", "Hemlock Forest", "Juniper Rhododendron Scrub",
                "Non Forest", "Spruce Forest", "Subtropical Forest", "Warm Broadleaved Forest"]
SERIES = [BLUE_PINE, CHIRPINE, COOL_BROADLEAVED, DRY_ALPINE, EVERGREEN_OAK, FIR, HEMLOCK,
          JUNIPER_RHODODENDRON, NON_FOREST, SPRUCE, SUBTROPICAL, WARM_BROADLEAVED]
COLORS = ["#4e79a7", "#f28e2b", "#e15759", "#76b7b2", "#59a14f", "#edc948", "#b07aa1",
          "#ff9da7", "#9c755f", "#bab0ac", "#d4a6c8", "#76b7ae"]
X_TICKS = [-1.0, -0.75, -0.5, -0.25, 0.0, 0.25, 0.5, 0.75, 1.0]
Y_TICKS = [-1.0, -0.5, 0.0, 0.5, 1.0]
STRESS_NOTE = "Kruskal stress-1 (2D) = 0.3384<br>Kruskal stress-1 (3D) = 0.2601"

FONT = "DejaVu Sans"
fig = go.Figure()
for name, pts, color in zip(FOREST_TYPES, SERIES, COLORS):
    fig.add_trace(go.Scatter(
        x=[p[0] for p in pts], y=[p[1] for p in pts], mode="markers", name=name,
        legendgroup=name,
        marker=dict(size=11.5, color=color, opacity=0.7, line=dict(width=0)),
    ))

axis = dict(showgrid=True, griddash="dash", gridcolor="#ececec", gridwidth=1,
            zeroline=True, zerolinecolor="#b0b0b0", zerolinewidth=1.5,
            showline=True, linecolor="black", linewidth=2, mirror=False,
            ticks="outside", ticklen=6, tickwidth=1.5, tickcolor="black",
            tickfont=dict(family=FONT, size=20.5, color="black"))
fig.update_layout(
    width=1215, height=871, autosize=False,
    margin=dict(l=113, r=377, t=7, b=73, autoexpand=False),
    paper_bgcolor="white", plot_bgcolor="white",
    font=dict(family=FONT, color="black"),
    xaxis=dict(axis, range=[-1.165, 1.076], tickvals=X_TICKS, tickformat=".2f", ticklabelstandoff=3,
               title=dict(text="NMDS1", font=dict(family=FONT, size=25), standoff=14)),
    yaxis=dict(axis, range=[-1.151, 1.165], tickvals=Y_TICKS, tickformat=".1f",
               title=dict(text="NMDS2", font=dict(family=FONT, size=25), standoff=17)),
    legend=dict(
        x=1.0245, xanchor="left", y=0.99, yanchor="top",
        title=dict(text="Forest type", side="top center", font=dict(family=FONT, size=25)),
        font=dict(family=FONT, size=20.2), traceorder="normal", tracegroupgap=8.4,
        bordercolor="#d8d8d8", borderwidth=2, bgcolor="white",
        itemsizing="trace", itemwidth=52,
    ),
    annotations=[dict(
        text=STRESS_NOTE, xref="x", yref="y", x=-1.137, y=-1.034, xanchor="left", yanchor="middle",
        align="left", showarrow=False, font=dict(family=FONT, size=22.7, color="black"),
        bgcolor="rgba(255,255,255,0.8)", bordercolor="#cccccc", borderwidth=2, borderpad=3,
    )],
)
fig.write_html("out.html", config={"displayModeBar": False}, post_script="document.body.style.margin='0';")
